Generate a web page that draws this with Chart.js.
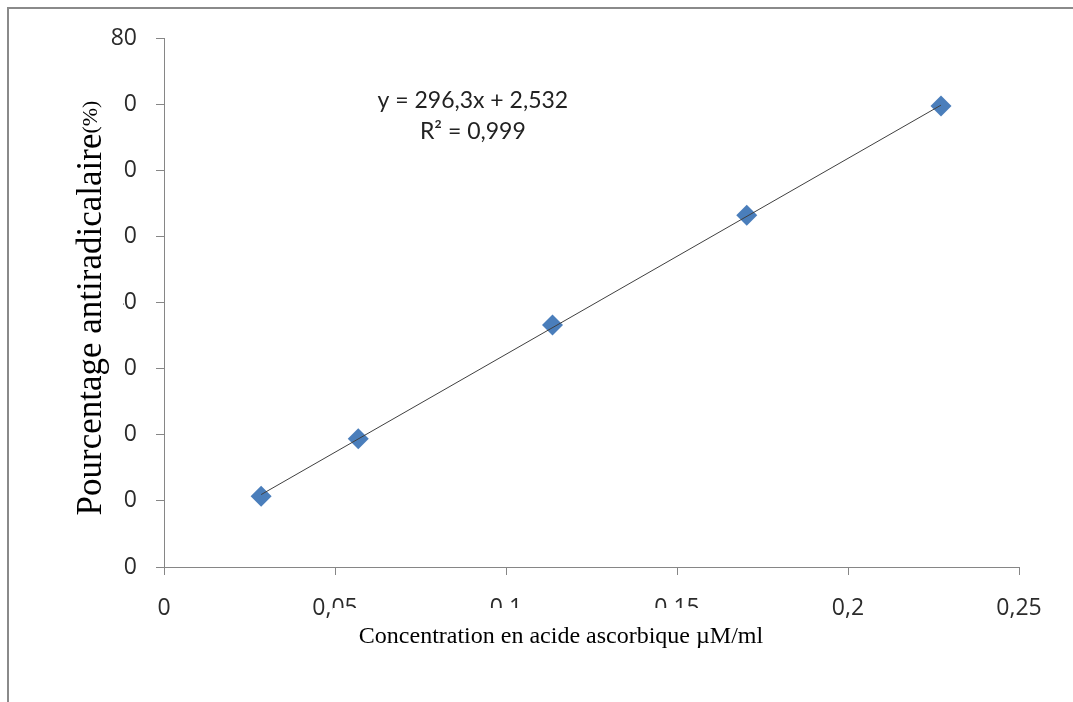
<!DOCTYPE html>
<html>
<head>
<meta charset="utf-8">
<script src="https://cdn.jsdelivr.net/npm/chart.js@4"></script>
<style>
  body { margin: 0; background: #fff; }
  #box { position: absolute; left: 0; top: 0; width: 1073px; height: 702px; }
</style>
</head>
<body>
<div id="box"><canvas id="acideBox" width="1073" height="702"></canvas></div>
<script>
// concentration (µM/ml) et pourcentage antiradicalaire
var concentrations = [0.0284, 0.0568, 0.1136, 0.1704, 0.2272];
var pourcentages = [10.7, 19.4, 36.6, 53.2, 69.7];

// droite de tendance (extrémités)
var trendX = [0.0284, 0.2272];
var trendY = [10.95, 69.85];

var xTickValues = [0, 0.05, 0.1, 0.15, 0.2, 0.25];
var xTickLabels = ['0', '0,05', '0,1', '0,15', '0,2', '0,25'];
var yTickValues = [0, 10, 20, 30, 40, 50, 60, 70, 80];
var yTickLabels = ['0', '10', '20', '30', '40', '50', '60', '70', '80'];

var equation = ['y = 296,3x + 2,532', 'R² = 0,999'];
var yTitle = 'Pourcentage antiradicalaire';
var yTitleUnit = '(%)';
var xTitle = 'Concentration en acide ascorbique µM/ml';

function toPoints(xs, ys) {
	var pts = [];
	for (var i = 0; i < xs.length; i++) {
		pts.push({x: xs[i], y: ys[i]});
	}
	return pts;
}

// cadre, titres des axes (avec fond blanc) et équation
var decorPlugin = {
	id: 'decor',
	beforeDraw: function(chart) {
		var c = chart.ctx;
		c.save();
		c.fillStyle = '#fff';
		c.fillRect(0, 0, chart.width, chart.height);
		c.strokeStyle = '#8a8a8a';
		c.lineWidth = 2;
		c.beginPath();
		c.moveTo(8, chart.height);
		c.lineTo(8, 8);
		c.lineTo(chart.width, 8);
		c.stroke();
		c.restore();
	},
	afterDraw: function(chart) {
		var c = chart.ctx;
		var xs = chart.scales.x, ys = chart.scales.y;
		c.save();

		// titre vertical
		c.fillStyle = '#fff';
		c.fillRect(62, 56, 61, 476);
		c.translate(101, 308);
		c.rotate(-Math.PI / 2);
		c.font = '35px "Liberation Serif"';
		var w1 = c.measureText(yTitle).width;
		c.font = '22px "Liberation Serif"';
		var w2 = c.measureText(yTitleUnit).width;
		var start = -(w1 + w2) / 2;
		c.fillStyle = '#000';
		c.textBaseline = 'alphabetic';
		c.textAlign = 'left';
		c.font = '35px "Liberation Serif"';
		c.fillText(yTitle, start, 0);
		c.font = '22px "Liberation Serif"';
		c.fillText(yTitleUnit, start + w1, -4);
		c.restore();

		// titre horizontal
		c.save();
		c.fillStyle = '#fff';
		c.fillRect(333, 608, 460, 50);
		c.fillStyle = '#000';
		c.font = '24px "Liberation Serif"';
		c.textAlign = 'center';
		c.textBaseline = 'middle';
		c.fillText(xTitle, 561, 637);

		// équation de la droite
		c.font = '23px Lato';
		c.fillStyle = '#222';
		var ex = xs.getPixelForValue(0.0903);
		c.fillText(equation[0], ex, ys.getPixelForValue(70.6));
		c.fillText(equation[1], ex, ys.getPixelForValue(65.9));
		c.restore();
	}
};

function drawAcideChart(ctx) {
	return new Chart(ctx, {
		type: 'scatter',
		data: {
			datasets: [{
				label: 'tendance',
				type: 'line',
				data: toPoints(trendX, trendY),
				borderColor: '#404040',
				borderWidth: 1,
				pointRadius: 0,
				fill: false
			}, {
				label: 'mesures',
				data: toPoints(concentrations, pourcentages),
				pointStyle: 'rectRot',
				pointRadius: 10.5,
				pointHoverRadius: 10.5,
				backgroundColor: '#4a7ebb',
				borderColor: '#4a7ebb',
				borderWidth: 0
			}]
		},
		options: {
			responsive: false,
			animation: false,
			events: [],
			layout: { padding: { top: 38, right: 54, left: 0, bottom: 0 } },
			plugins: { legend: { display: false }, tooltip: { enabled: false } },
			scales: {
				x: {
					type: 'linear',
					min: 0,
					max: 0.25,
					afterBuildTicks: function(s) {
						s.ticks = xTickValues.map(function(v) { return {value: v}; });
					},
					afterFit: function(s) { s.height = 135; },
					grid: { display: true, drawOnChartArea: false, drawTicks: true, tickLength: 8, color: '#868686' },
					border: { color: '#868686', width: 1 },
					ticks: {
						padding: 20,
						color: '#2b2b2b',
						font: { family: '"Open Sans"', size: 23 },
						maxRotation: 0,
						callback: function(v) { return xTickLabels[xTickValues.indexOf(v)]; }
					}
				},
				y: {
					type: 'linear',
					min: 0,
					max: 80,
					afterBuildTicks: function(s) {
						s.ticks = yTickValues.map(function(v) { return {value: v}; });
					},
					afterFit: function(s) { s.width = 164; },
					grid: { display: true, drawOnChartArea: false, drawTicks: true, tickLength: 8, color: '#868686' },
					border: { color: '#868686', width: 1 },
					ticks: {
						padding: 19,
						color: '#2b2b2b',
						font: { family: '"Open Sans"', size: 23 },
						callback: function(v) { return yTickLabels[yTickValues.indexOf(v)]; }
					}
				}
			}
		},
		plugins: [decorPlugin]
	});
}

var ctx = document.getElementById('acideBox');
drawAcideChart(ctx);
</script>
</body>
</html>
